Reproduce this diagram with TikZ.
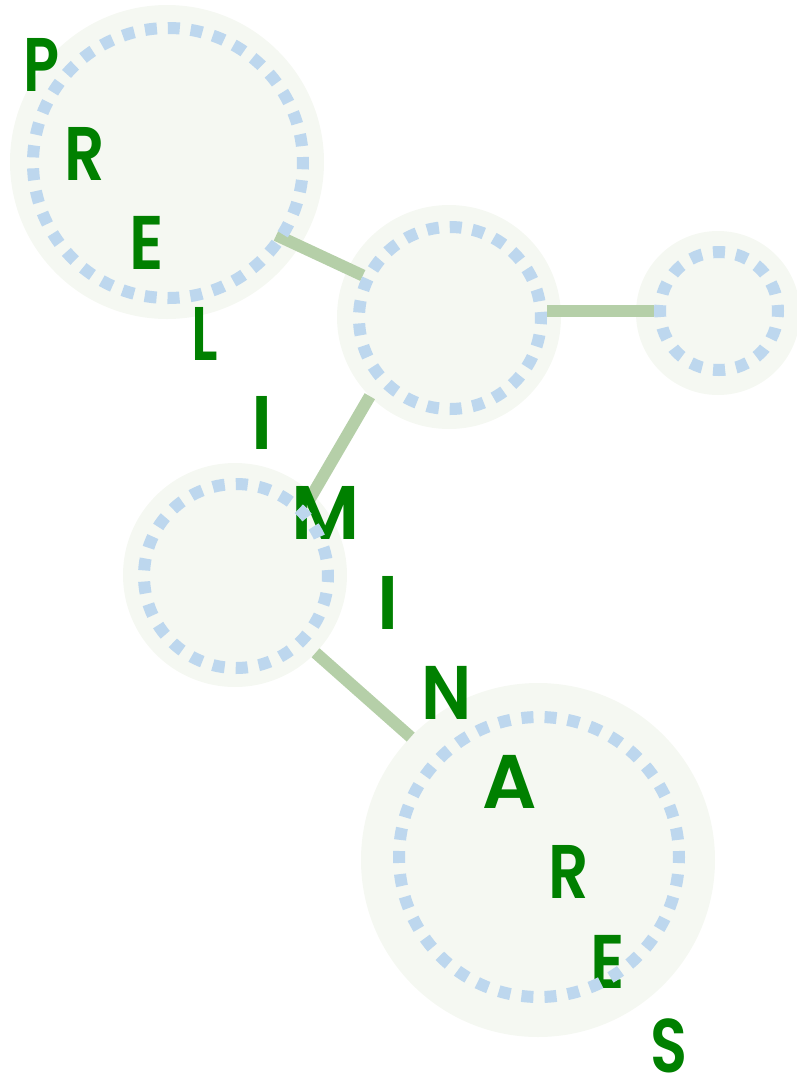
\documentclass[tikz,border=0pt]{standalone}
\usepackage{fontspec}
\newfontfamily\lettfont{Poppins}[UprightFont=* SemiBold,BoldFont=* Bold]
\definecolor{bubblefill}{HTML}{F5F8F2}
\definecolor{ringblue}{HTML}{BDD7EE}
\definecolor{linkgreen}{HTML}{B5CFA8}
\definecolor{lettergreen}{HTML}{008000}
\pgfdeclarelayer{bg}
\pgfdeclarelayer{mid}
\pgfsetlayers{bg,mid,main}
\begin{document}
\begin{tikzpicture}[x=1pt,y=-1pt,
  bubble/.style={circle,fill=bubblefill,draw=none,inner sep=0pt,outer sep=0pt,minimum size=#1},
  ring/.style={circle,draw=ringblue,line width=12pt,inner sep=0pt,dash pattern=on 12pt off #1,dash phase=6pt},
  link/.style={draw=linkgreen,line width=12pt},
  letter/.style={text=lettergreen,inner sep=0pt,anchor=base,font=\lettfont\fontsize{76}{80}\selectfont}]
\useasboundingbox (0,0) rectangle (796,1080);
\begin{pgfonlayer}{bg}
  \node[bubble=314pt] (c1) at (167,162) {};
  \node[bubble=224pt] (c2) at (449,317) {};
  \node[bubble=164pt] (c3) at (718,313) {};
  \node[bubble=224pt] (c4) at (235,575) {};
  \node[bubble=354pt] (c5) at (538,860) {};
\end{pgfonlayer}
\node[ring=10.92pt,minimum size=270pt] (d1) at (168,163) {};
\node[ring=10.87pt,minimum size=182pt] (d2) at (450,318) {};
\node[ring=11.17pt,minimum size=118pt] (d3) at (719,311) {};
\node[ring=11.12pt,minimum size=184pt] (d4) at (236,576) {};
\node[ring=11.15pt,minimum size=280pt] (d5) at (539,857) {};
\begin{pgfonlayer}{mid}
  \draw[link,shorten <=-11pt] (d1.-33) -- (d2.154);
  \draw[link] (d2.east |- d3.west) -- (d3.west);
  \draw[link] (c2.225) -- (d4.45);
  \draw[link] (c4.-44) -- (c5.136);
  \node[letter] (l1) at (42,91) {\scalebox{0.78}[1]{P}};
  \node[letter] (l2) at (85,180) {\scalebox{0.83}[1]{R}};
  \node[letter] (l3) at (147,269) {\scalebox{0.85}[1]{E}};
  \node[letter] (l4) at (205,360) {\scalebox{0.76}[1]{L}};
  \node[letter] (l5) at (262,449) {I};
  \node[letter] (l6) at (326,539) {M};
  \node[letter] (l7) at (388,629) {I};
  \node[letter] (l8) at (447,719) {\scalebox{0.9}[1]{N}};
  \node[letter] (l9) at (510,808) {A};
  \node[letter] (l10) at (569,898) {\scalebox{0.83}[1]{R}};
  \node[letter] (l11) at (608,988) {\scalebox{0.85}[1]{E}};
  \node[letter] (l12) at (669,1072) {\scalebox{0.8}[1]{S}};
\end{pgfonlayer}
\end{tikzpicture}
\end{document}
